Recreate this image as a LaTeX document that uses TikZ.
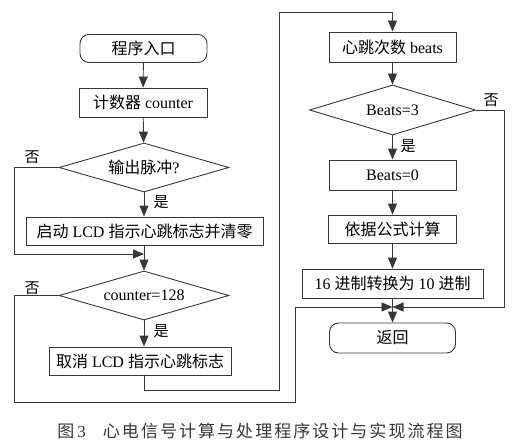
\documentclass[tikz,border=0pt]{standalone}
\usepackage{fontspec}
\setmainfont{Liberation Serif}
\newfontfamily\cjk{Noto Sans CJK SC}
\newfontfamily\cjkcap[LetterSpace=12]{Noto Sans CJK SC}
\usetikzlibrary{shapes.geometric,arrows.meta}
\definecolor{ln}{RGB}{55,55,55}
\newcommand\zhs[1]{{\cjk #1}}
\begin{document}
\begin{tikzpicture}[x=1pt,y=-1pt,line width=0.9pt,
  box/.style={draw=ln,rectangle,inner sep=0pt,font=\fontsize{16}{16}\selectfont},
  term/.style={box,rounded corners=9pt},
  dia/.style={draw=ln,diamond,aspect=3.4,inner sep=0pt,font=\fontsize{16}{16}\selectfont},
  flow/.style={draw=ln,-{Triangle[length=11pt,width=9pt]}},
  plain/.style={draw=ln},
  lab/.style={inner sep=0pt,font=\fontsize{15}{15}\selectfont}]
\useasboundingbox (0,0) rectangle (522,444);
% left column
\node[term,minimum width=127pt,minimum height=28pt] (start) at (143.5,48.5) {\zhs{程序入口}};
\node[box,minimum width=128pt,minimum height=29pt] (cnt) at (143,102.5) {\zhs{计数器} counter};
\node[dia,minimum width=170pt,minimum height=49pt] (d1) at (144,167.5) {\zhs{输出脉冲}?};
\node[box,minimum width=237pt,minimum height=28pt] (lcd1) at (144.5,231) {\zhs{启动} LCD \zhs{指示心跳标志并清零}};
\node[dia,minimum width=170pt,minimum height=49pt] (d2) at (144,295.5) {counter=128};
\node[box,minimum width=182pt,minimum height=28pt] (lcd2) at (140,361) {\zhs{取消} LCD \zhs{指示心跳标志}};
% right column
\node[box,minimum width=127pt,minimum height=30pt] (beats) at (392.5,47) {\zhs{心跳次数} beats};
\node[dia,minimum width=166pt,minimum height=50pt] (d3) at (392.5,110) {Beats=3};
\node[box,minimum width=127pt,minimum height=30pt] (b0) at (392.5,175) {Beats=0};
\node[box,minimum width=128pt,minimum height=28pt] (calc) at (392.5,229) {\zhs{依据公式计算}};
\node[box,minimum width=181pt,minimum height=29pt] (hex) at (392.5,283.5) {16 \zhs{进制转换为} 10 \zhs{进制}};
\node[term,minimum width=126pt,minimum height=30pt] (ret) at (392.5,338) {\zhs{返回}};
% coordinates
\coordinate (j1) at (144,254);
\coordinate (L1) at (14,254);
\coordinate (L2) at (14,402);
\coordinate (R2) at (295,307);
\coordinate (j2) at (392.5,307);
\coordinate (R3) at (504,307);
\coordinate (M1) at (279,390);
\coordinate (M2) at (279,12);
\coordinate (o2) at (144,375);
% connectors
\draw[flow] (start) -- (cnt);
\draw[flow] (cnt) -- (d1);
\draw[flow] (d1.south) -- (d1.south |- lcd1.north);
\draw[flow] (d1.west) -| (L1) -- (j1);
\draw[plain] (lcd1.south -| j1) -- (j1);
\draw[flow] (j1) -- (d2.north);
\draw[flow] (d2.south) -- (d2.south |- lcd2.north);
\draw[flow] (d2.west) -| (L2) -| (R2) -- (j2);
\draw[flow] (o2) |- (M1) -- (M2) -| (beats.north);
\draw[flow] (beats) -- (d3);
\draw[flow] (d3) -- (b0);
\draw[flow] (b0) -- (calc);
\draw[flow] (calc) -- (hex);
\draw[flow] (d3.east) -| (R3) -- (j2);
\draw[plain] (hex.south) -- (j2);
\draw[flow] (j2) -- (ret.north);
% labels
\node[lab] (n1) at (32,157) {\zhs{否}};
\node[lab] (y1) at (161,202) {\zhs{是}};
\node[lab] (n2) at (32,288) {\zhs{否}};
\node[lab] (y2) at (161,331) {\zhs{是}};
\node[lab] (n3) at (491,100) {\zhs{否}};
\node[lab] (y3) at (408,146) {\zhs{是}};
% caption
\node[anchor=west,inner sep=0pt,text=ln,font=\fontsize{17}{17}\selectfont] (cap) at (57,431) {{\cjkcap 图}\hspace{3pt}3\hspace{17pt}{\cjkcap 心电信号计算与处理程序设计与实现流程图}};
\end{tikzpicture}
\end{document}
